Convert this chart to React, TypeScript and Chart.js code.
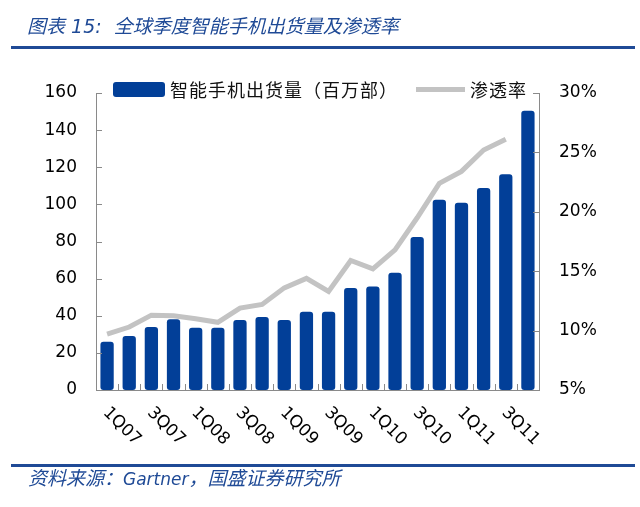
import React, { useEffect, useRef } from "react";
import { Chart, registerables } from "chart.js";

Chart.register(...registerables);

const categories = [
  "1Q07", "2Q07", "3Q07", "4Q07", "1Q08", "2Q08", "3Q08", "4Q08", "1Q09", "2Q09",
  "3Q09", "4Q09", "1Q10", "2Q10", "3Q10", "4Q10", "1Q11", "2Q11", "3Q11", "4Q11",
];
const shownLabels = ["1Q07", "3Q07", "1Q08", "3Q08", "1Q09", "3Q09", "1Q10", "3Q10", "1Q11", "3Q11"];
const shipments = [26, 29.1, 33.9, 38.1, 33.6, 33.6, 37.7, 39.3, 37.7, 42.2, 42.2, 55, 55.7, 63.2, 82.4, 102.5, 100.9, 108.8, 116.2, 150.5];
const penetration = [9.7, 10.3, 11.3, 11.25, 11.0, 10.7, 11.9, 12.2, 13.6, 14.4, 13.3, 15.9, 15.2, 16.8, 19.5, 22.4, 23.4, 25.2, 26.1, null];
const leftTicks = [0, 20, 40, 60, 80, 100, 120, 140, 160];
const rightTicks = [5, 10, 15, 20, 25, 30];

const BLUE = "#023F98";
const TITLE_BLUE = "#1F4A96";
const GREY = "#C3C3C3";
const AXIS = "#8A8A8A";

const decorPlugin = {
  id: "decor",
  afterDraw(chart: any) {
    const ctx = chart.ctx;
    const x = chart.scales.x;
    const y = chart.scales.y;
    const y1 = chart.scales.y1;
    const area = chart.chartArea;
    ctx.save();
    ctx.strokeStyle = AXIS;
    ctx.lineWidth = 1;
    ctx.beginPath();
    for (let i = 1; i < categories.length; i++) {
      const px = Math.round((x.getPixelForValue(i - 1) + x.getPixelForValue(i)) / 2) + 0.5;
      ctx.moveTo(px, area.bottom);
      ctx.lineTo(px, area.bottom - 6);
    }
    for (const v of leftTicks) {
      const py = Math.round(y.getPixelForValue(v)) + 0.5;
      ctx.moveTo(area.left, py);
      ctx.lineTo(area.left + 6, py);
    }
    for (const v of rightTicks) {
      const py = Math.round(y1.getPixelForValue(v)) + 0.5;
      ctx.moveTo(area.right, py);
      ctx.lineTo(area.right - 6, py);
    }
    ctx.stroke();

    ctx.fillStyle = "#000";
    ctx.font = "17px 'DejaVu Sans'";
    ctx.textAlign = "left";
    ctx.textBaseline = "middle";
    categories.forEach((c, i) => {
      if (!shownLabels.includes(c)) return;
      const px = x.getPixelForValue(i);
      ctx.save();
      ctx.translate(px - 1.5, area.bottom + 20);
      ctx.rotate(Math.PI / 4);
      ctx.fillText(c, 0, 0);
      ctx.restore();
    });
    ctx.restore();
  },
};

export default function App() {
  const ref = useRef<HTMLCanvasElement | null>(null);

  useEffect(() => {
    if (!ref.current) return;
    const chart = new Chart(ref.current, {
      type: "bar",
      data: {
        labels: categories,
        datasets: [
          {
            type: "line",
            label: "渗透率",
            data: penetration,
            yAxisID: "y1",
            borderColor: GREY,
            backgroundColor: GREY,
            borderWidth: 5,
            pointRadius: 0,
            tension: 0,
            spanGaps: false,
          } as any,
          {
            type: "bar",
            label: "智能手机出货量（百万部）",
            data: shipments,
            yAxisID: "y",
            backgroundColor: BLUE,
            borderRadius: 3,
            borderSkipped: false,
            barPercentage: 0.6,
            categoryPercentage: 1,
          } as any,
        ],
      },
      options: {
        responsive: false,
        animation: false,
        devicePixelRatio: 1,
        layout: { padding: { top: 93, left: 0, right: 0, bottom: 0 } },
        plugins: { legend: { display: false }, tooltip: { enabled: false } },
        scales: {
          x: {
            offset: true,
            grid: { display: false, drawTicks: false },
            border: { display: true, color: AXIS, width: 1 },
            ticks: { display: false },
            afterFit: (s: any) => { s.height = 117; },
          },
          y: {
            position: "left",
            min: 0,
            max: 160,
            grid: { display: false, drawTicks: false },
            border: { display: true, color: AXIS, width: 1 },
            ticks: {
              stepSize: 20,
              padding: 19,
              color: "#000",
              font: { family: "'DejaVu Sans'", size: 17 },
            },
            afterFit: (s: any) => { s.width = 96; },
          },
          y1: {
            position: "right",
            min: 5,
            max: 30,
            grid: { display: false, drawTicks: false },
            border: { display: true, color: AXIS, width: 1 },
            ticks: {
              stepSize: 5,
              padding: 20,
              color: "#000",
              font: { family: "'DejaVu Sans'", size: 17 },
              callback: (v: any) => v + "%",
            },
            afterFit: (s: any) => { s.width = 101; },
          },
        },
      },
      plugins: [decorPlugin],
    });
    return () => chart.destroy();
  }, []);

  const cjk = "'DejaVu Sans', 'Noto Sans CJK SC', sans-serif";

  return (
    <div style={{ position: "fixed", left: 0, top: 0, width: 640, height: 507, background: "#fff", overflow: "hidden" }}>
      <canvas ref={ref} width={640} height={507} style={{ position: "absolute", left: 0, top: 0, width: 640, height: 507 }} />
      <div
        style={{
          position: "absolute", left: 27, top: 13, fontSize: 19, lineHeight: "26px",
          fontStyle: "italic", color: TITLE_BLUE, fontFamily: cjk, whiteSpace: "pre",
        }}
      >
        {"图表 15:  全球季度智能手机出货量及渗透率"}
      </div>
      <div style={{ position: "absolute", left: 11, top: 46, width: 624, height: 3, background: TITLE_BLUE }} />
      <div style={{ position: "absolute", left: 113, top: 82, width: 52, height: 15, borderRadius: 3, background: BLUE }} />
      <div
        style={{
          position: "absolute", left: 170, top: 78, fontSize: 18, lineHeight: "22px",
          color: "#111", fontFamily: "'Noto Sans CJK SC', sans-serif", whiteSpace: "pre", letterSpacing: 1,
        }}
      >
        智能手机出货量（百万部）
      </div>
      <div style={{ position: "absolute", left: 416, top: 87, width: 49, height: 5, background: GREY }} />
      <div
        style={{
          position: "absolute", left: 470, top: 78, fontSize: 18, lineHeight: "22px",
          color: "#111", fontFamily: "'Noto Sans CJK SC', sans-serif", whiteSpace: "pre", letterSpacing: 1,
        }}
      >
        渗透率
      </div>
      <div style={{ position: "absolute", left: 11, top: 464, width: 624, height: 3, background: TITLE_BLUE }} />
      <div
        style={{
          position: "absolute", left: 28, top: 467, fontSize: 19, lineHeight: "22px",
          fontStyle: "italic", color: TITLE_BLUE, fontFamily: cjk, whiteSpace: "pre",
        }}
      >
        资料来源：<span style={{ fontSize: 17 }}>Gartner</span>，国盛证券研究所
      </div>
    </div>
  );
}
